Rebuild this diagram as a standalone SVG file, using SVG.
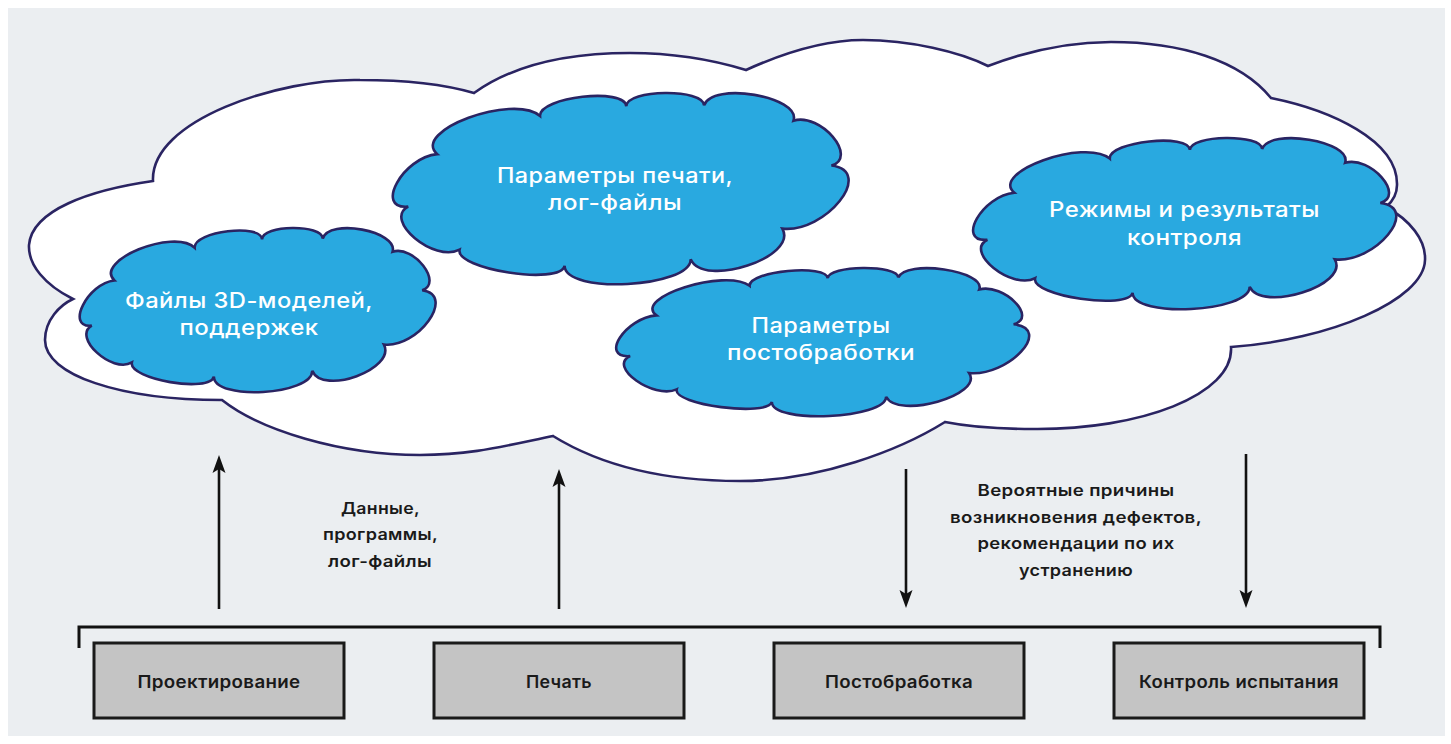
<svg xmlns="http://www.w3.org/2000/svg" xmlns:xlink="http://www.w3.org/1999/xlink" width="1451" height="744" viewBox="0 0 1451 744">
<style>
.bg{fill:#EBEEF1}
.big{fill:#FFFFFF;stroke:#2A2462;stroke-width:2.6;stroke-linejoin:miter}
.cl{fill:#29A9E0;stroke:#2A2462;stroke-width:2.6;vector-effect:non-scaling-stroke}
.ct{font-family:Inter,"Open Sans","Liberation Sans",sans-serif;font-size:21px;font-weight:500;fill:#FFFFFF;text-anchor:middle;letter-spacing:0.4px}
.lt{font-family:Inter,"Open Sans","Liberation Sans",sans-serif;font-size:16px;font-weight:600;fill:#1A1A1A;text-anchor:middle;letter-spacing:0.3px}
.bt{font-family:Inter,"Open Sans","Liberation Sans",sans-serif;font-size:17px;font-weight:600;fill:#1A1A1A;text-anchor:middle;letter-spacing:0.3px}
.box{fill:#C4C4C4;stroke:#1A1A1A;stroke-width:3}
.ar{fill:none;stroke:#111111;stroke-width:2.6}
.br{fill:none;stroke:#111111;stroke-width:3}
</style>
<defs>
<path id="cloud" class="cl" d="M 9,32 C 1.33,33.67 -5.17,61.17 2.5,59.5 C -3.17,66.5 8.33,89 14,82 C 13,92.33 36.5,100.83 37.5,90.5 C 37.5,105.5 65.7,102 65.7,87 C 68.57,102.3 89.87,86 86.2,71 C 95.87,73.5 107.07,41 97.2,38 C 103.27,33.67 94.77,10.17 88.7,14.5 C 90.43,1.83 70.43,-6.17 68.7,6.5 C 68.7,-2.5 51.3,-2 51.3,7 C 51.1,-3 31.8,2 32,12 C 26,0 3,20 9,32 Z"/>
<marker id="ah" viewBox="-19 -7 20 14" refX="-12" refY="0" markerWidth="20" markerHeight="14" markerUnits="userSpaceOnUse" orient="auto">
<path d="M0,0 L-18,-6.5 L-14,0 L-18,6.5 Z" fill="#111111"/>
</marker>
</defs>
<rect class="bg" x="8" y="8" width="1437" height="728"/>

<g id="main-cloud">
<path class="big" d="M 153,181 C 150,120 280,78 360,80 C 410,80 450,86 474,93 C 520,60 580,53 630,53 C 680,53 720,62 746,70 C 790,50 830,40 863,40 C 910,40 960,52 988,66 C 1030,50 1070,42 1111,42 C 1180,42 1240,60 1271,98 C 1330,110 1398,140 1397,185 C 1397,195 1392,202 1386,207 C 1410,220 1426,240 1425,260 C 1424,300 1330,340 1231,347 C 1234,395 1140,430 1033,429 C 1000,429 970,427 945,422 C 900,450 820,481 740,481 C 660,481 600,465 553,436 C 500,447 470,455 420,455 C 340,455 260,430 222,400 C 120,400 45,375 45,340 C 45,320 60,305 73,299 C 45,285 28,265 29,245 C 32,210 90,190 153,181 Z"/>
</g>

<g id="cloud-models">
<use xlink:href="#cloud" href="#cloud" transform="translate(83,228) scale(3.49,1.64)"/>
<text class="ct" x="249" y="308" textLength="248" lengthAdjust="spacingAndGlyphs">Файлы 3D-моделей,</text>
<text class="ct" x="249" y="335" textLength="139" lengthAdjust="spacingAndGlyphs">поддержек</text>
</g>

<g id="cloud-print">
<use xlink:href="#cloud" href="#cloud" transform="translate(397,93) scale(4.47,1.91)"/>
<text class="ct" x="615" y="183" textLength="236" lengthAdjust="spacingAndGlyphs">Параметры печати,</text>
<text class="ct" x="615" y="210" textLength="134" lengthAdjust="spacingAndGlyphs">лог-файлы</text>
</g>

<g id="cloud-post">
<use xlink:href="#cloud" href="#cloud" transform="translate(620,268) scale(4.05,1.48)"/>
<text class="ct" x="821" y="333" textLength="139" lengthAdjust="spacingAndGlyphs">Параметры</text>
<text class="ct" x="821" y="360" textLength="188" lengthAdjust="spacingAndGlyphs">постобработки</text>
</g>

<g id="cloud-control">
<use xlink:href="#cloud" href="#cloud" transform="translate(977,138) scale(4.15,1.71)"/>
<text class="ct" x="1184.5" y="217" textLength="271" lengthAdjust="spacingAndGlyphs">Режимы и результаты</text>
<text class="ct" x="1184.5" y="245" textLength="115" lengthAdjust="spacingAndGlyphs">контроля</text>
</g>

<g id="connectors">
<line class="ar" x1="219" y1="609" x2="219" y2="467" marker-end="url(#ah)"/>
<line class="ar" x1="559" y1="609" x2="559" y2="481" marker-end="url(#ah)"/>
<line class="ar" x1="906" y1="469" x2="906" y2="596" marker-end="url(#ah)"/>
<line class="ar" x1="1246" y1="454" x2="1246" y2="596" marker-end="url(#ah)"/>
<path class="br" d="M 79,648 L 79,627 L 1380,627 L 1380,648"/>
</g>

<g id="label-data">
<text class="lt" x="380.5" y="514" textLength="79" lengthAdjust="spacingAndGlyphs">Данные,</text>
<text class="lt" x="380.5" y="540" textLength="115" lengthAdjust="spacingAndGlyphs">программы,</text>
<text class="lt" x="380" y="567" textLength="104" lengthAdjust="spacingAndGlyphs">лог-файлы</text>
</g>

<g id="label-defects">
<text class="lt" x="1076" y="496" textLength="197" lengthAdjust="spacingAndGlyphs">Вероятные причины</text>
<text class="lt" x="1076" y="523" textLength="252" lengthAdjust="spacingAndGlyphs">возникновения дефектов,</text>
<text class="lt" x="1076" y="549" textLength="197" lengthAdjust="spacingAndGlyphs">рекомендации по их</text>
<text class="lt" x="1076" y="576" textLength="114" lengthAdjust="spacingAndGlyphs">устранению</text>
</g>

<g id="box-design">
<rect class="box" x="94" y="643" width="250" height="75"/>
<text class="bt" x="219" y="688" textLength="163" lengthAdjust="spacingAndGlyphs">Проектирование</text>
</g>
<g id="box-print">
<rect class="box" x="434" y="643" width="250" height="75"/>
<text class="bt" x="559" y="688" textLength="66" lengthAdjust="spacingAndGlyphs">Печать</text>
</g>
<g id="box-post">
<rect class="box" x="774" y="643" width="250" height="75"/>
<text class="bt" x="899" y="688" textLength="148" lengthAdjust="spacingAndGlyphs">Постобработка</text>
</g>
<g id="box-control">
<rect class="box" x="1114" y="643" width="250" height="75"/>
<text class="bt" x="1239" y="688" textLength="200" lengthAdjust="spacingAndGlyphs">Контроль испытания</text>
</g>
</svg>
